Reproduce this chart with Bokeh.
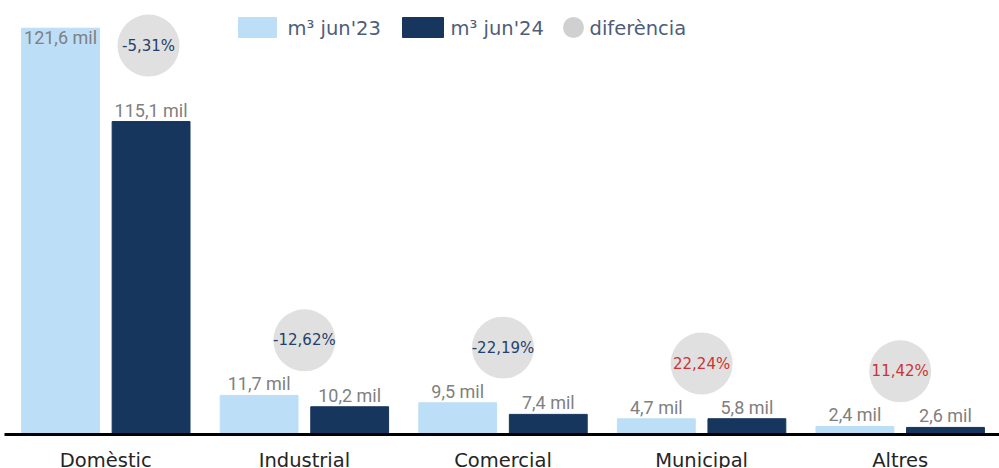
from bokeh.plotting import figure
from bokeh.models import Range1d, ColumnDataSource
from bokeh.embed import file_html
from bokeh.resources import INLINE
from bokeh.core.properties import value

# ---------------- data ----------------
categories = ["Domèstic", "Industrial", "Comercial", "Municipal", "Altres"]
m3_jun23 = [121.6, 11.7, 9.5, 4.7, 2.4]      # thousands of m³
m3_jun24 = [115.1, 10.2, 7.4, 5.8, 2.6]      # thousands of m³
diferencia = [-5.31, -12.62, -22.19, 22.24, 11.42]  # %
legend_labels = ["m³ jun'23", "m³ jun'24", "diferència"]

# ---------------- style ----------------
C23 = "#BDDEF7"
C24 = "#17365D"
BUBBLE = "#E0E0E0"
NEG = "#243F6A"
POS = "#CC3333"
LABEL_GREY = "#808080"
LEGEND_TXT = "#4F5D78"
W, H = 999, 468

# scales: frame covers whole canvas; value 0 sits at pixel 434
PX_LEFT, CAT_W, BASE_PX = 6.0, 198.6, 434.0
K23 = 3.341   # px per thousand m³ (jun'23 axis)
K24 = 2.719   # px per thousand m³ (jun'24 axis, independent)

x_range = Range1d(-PX_LEFT / CAT_W, (W - PX_LEFT) / CAT_W)
y23 = Range1d(-(H - BASE_PX) / K23, BASE_PX / K23)
y24 = Range1d(-(H - BASE_PX) / K24, BASE_PX / K24)

p = figure(width=W, height=H, x_range=x_range, y_range=y23,
           output_backend="svg", toolbar_location=None,
           x_axis_type=None, y_axis_type=None,
           min_border=0, min_border_left=0, min_border_right=0,
           min_border_top=0, min_border_bottom=0, outline_line_color=None)
p.xgrid.visible = False
p.ygrid.visible = False
p.extra_y_ranges = {"y24": y24, "px": Range1d(H, 0)}
p.extra_x_ranges = {"px": Range1d(0, W)}

OFF, BW = 0.228, 0.392
xc = [i + 0.5 for i in range(len(categories))]

def fmt_mil(v):
    return f"{v:.1f}".replace(".", ",") + " mil"

def fmt_pct(v):
    return f"{v:.2f}".replace(".", ",") + "%"

top23 = y23.end
top24 = y24.end
src = ColumnDataSource(dict(
    x23=[x - OFF for x in xc], x24=[x + OFF for x in xc],
    v23=m3_jun23, v24=m3_jun24,
    l23=[fmt_mil(v) for v in m3_jun23], l24=[fmt_mil(v) for v in m3_jun24],
    o23=[9 if v > 0.9 * top23 else -11.5 for v in m3_jun23],
    o24=[9 if v > 0.9 * top24 else -11.5 for v in m3_jun24],
))

p.vbar(x="x23", top="v23", bottom=0, width=BW, color=C23, source=src)
p.vbar(x="x24", top="v24", bottom=0, width=BW, color=C24, source=src,
       y_range_name="y24")

font_lab = value("Roboto")
p.text(x="x23", y="v23", text="l23", y_offset="o23", source=src,
       text_align="center", text_baseline="middle",
       text_font=font_lab, text_font_size="18px", text_color=LABEL_GREY)
p.text(x="x24", y="v24", text="l24", y_offset="o24", source=src,
       y_range_name="y24",
       text_align="center", text_baseline="middle",
       text_font=font_lab, text_font_size="18px", text_color=LABEL_GREY)

# difference bubbles: placed above the taller bar; if no room, beside it at the top
PAD = 16.5
ratio = top23 / top24
bx, by = [], []
for i, (a, b) in enumerate(zip(m3_jun23, m3_jun24)):
    level = max(a, b * ratio) + PAD
    limit = top23 - 13.5
    if level > limit:
        bx.append(xc[i] + 0.215)
        by.append(limit)
    else:
        bx.append(xc[i])
        by.append(level)
bsrc = ColumnDataSource(dict(
    x=bx, y=by, t=[fmt_pct(d) for d in diferencia],
    c=[NEG if d < 0 else POS for d in diferencia]))
p.scatter(x="x", y="y", size=62, marker="circle", fill_color=BUBBLE,
          line_color=None, source=bsrc)
p.text(x="x", y="y", text="t", text_color="c", source=bsrc,
       text_align="center", text_baseline="middle",
       text_font=value("DejaVu Sans"), text_font_size="15px")

# baseline
p.segment(x0=[x_range.start + 4 / CAT_W], x1=[x_range.end], y0=[0], y1=[0],
          line_color="black", line_width=3)

# category labels
p.text(x=xc, y=[459.5] * len(xc), text=categories, y_range_name="px",
       text_align="center", text_baseline="middle",
       text_font=value("DejaVu Sans"), text_font_size="19.5px",
       text_color="#252525")

# legend (pixel coordinates)
p.quad(left=[238, 402], right=[276, 443], top=[17, 17], bottom=[37, 37],
       color=[C23, C24], x_range_name="px", y_range_name="px")
p.scatter(x=[573], y=[27], size=21, marker="circle", fill_color="#D0D0D0",
          line_color=None, x_range_name="px", y_range_name="px")
p.text(x=[287, 450, 589], y=[28, 28, 28], text=legend_labels,
       x_range_name="px", y_range_name="px",
       text_align="left", text_baseline="middle",
       text_font=value("DejaVu Sans"), text_font_size="19.5px",
       text_color=LEGEND_TXT)

open("out.html", "w").write(file_html(p, INLINE))
